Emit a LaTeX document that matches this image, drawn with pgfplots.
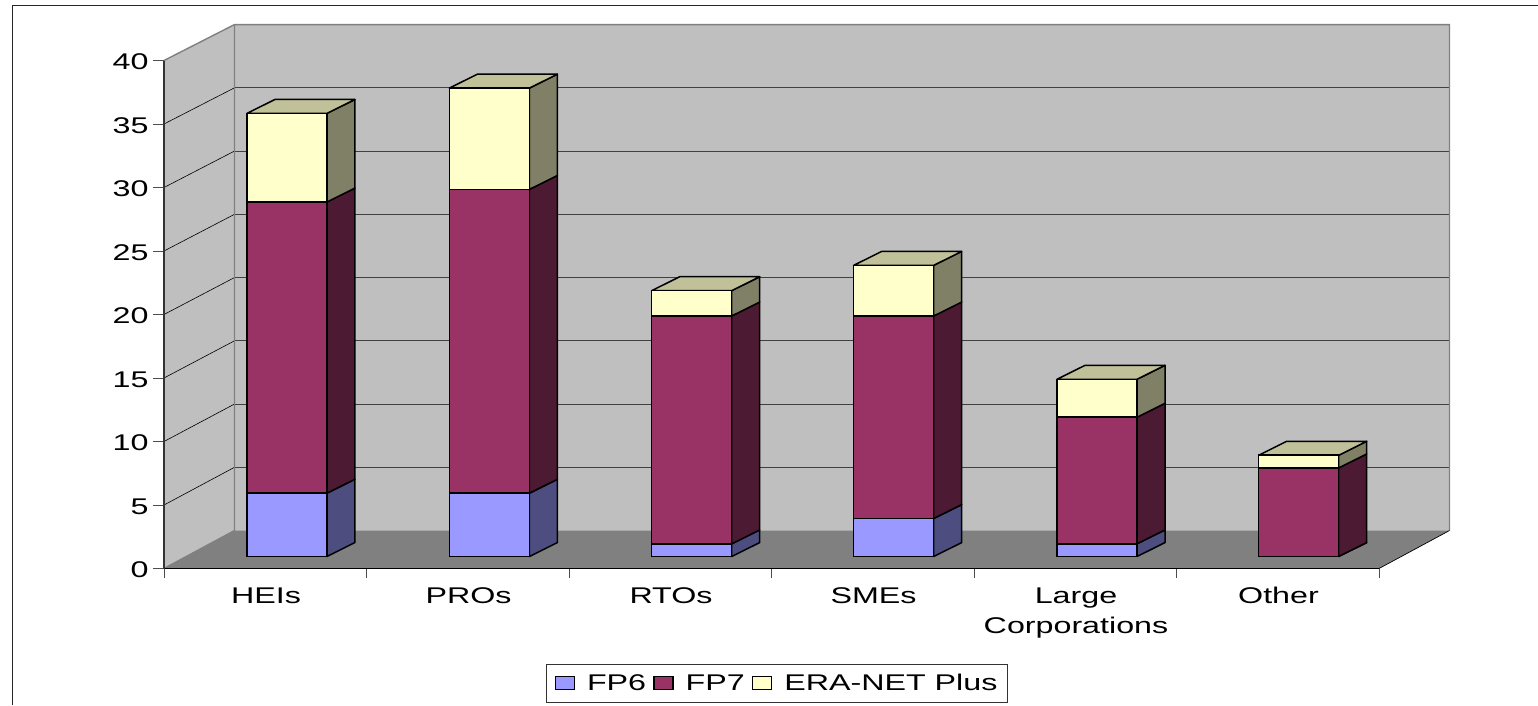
\documentclass[border=0pt]{standalone}
\usepackage{fontspec}
\setmainfont{Liberation Sans}[FakeStretch=1.42]
\usepackage{pgfplots}
\usepackage{pgfplotstable}
\pgfplotsset{compat=1.18}
\definecolor{cA}{HTML}{9999FF}\definecolor{cAs}{HTML}{4D4D80}
\definecolor{cB}{HTML}{993366}\definecolor{cBs}{HTML}{4D1A33}
\definecolor{cC}{HTML}{FFFFCC}\definecolor{cCs}{HTML}{808066}\definecolor{cCt}{HTML}{C0C099}
\pgfplotstableread{
x      FP6 FP7 ERA
286.9  5   23  7
489.4  5   24  8
691.7  1   18  2
893.7  3   16  4
1097   1   10  3
1298.7 0   7   1
}\bars
% side face of a segment: right edge, lower and upper value, colour
\newcommand\seg[4]{%
 \pgfmathsetmacro\xb{#1+28}\pgfmathsetmacro\ya{#2+1.1}\pgfmathsetmacro\yb{#3+1.1}%
 \edef\tmp{\noexpand\addplot[fill=#4,draw=black,line width=1.5pt,line join=round,forget plot] coordinates {(#1,#2) (\xb,\ya) (\xb,\yb) (#1,#3)} --cycle;}\tmp}
% top face: left edge, right edge, value
\newcommand\topf[3]{%
 \pgfmathsetmacro\xa{#1+28}\pgfmathsetmacro\xb{#2+28}\pgfmathsetmacro\yb{#3+1.1}%
 \edef\tmp{\noexpand\addplot[fill=cCt,draw=black,line width=1.5pt,line join=round,forget plot] coordinates {(#1,#3) (#2,#3) (\xb,\yb) (\xa,\yb)} --cycle;}\tmp}
\pgfplotsset{base/.style={width=1215pt,height=508pt,scale only axis,xmin=164,xmax=1379,clip=false}}
\begin{document}
\begin{tikzpicture}
\path[use as bounding box] (-164pt,-136.5pt) rectangle (1374pt,568.5pt);
\draw[line width=1pt,black!85] (-151pt,-136.5pt) -- (-151pt,563pt) -- (1374pt,563pt);
\begin{axis}[base,ymin=0,ymax=40,
  axis x line=bottom,axis y line=left,axis line style={-,line width=1.2pt,black!80},
  tick align=outside,major tick length=11pt,minor tick length=9pt,
  tick style={black!70,line width=0.9pt},
  xtick={266,468.5,671,873.5,1076,1278.5},
  xticklabels={HEIs,PROs,RTOs,SMEs,{Large\\Corporations},Other},
  minor xtick={164,366.5,569,771.5,974,1176.5,1379},
  x tick style={draw=none},minor x tick style={draw=black!70,line width=0.9pt},
  ytick={0,5,...,40},
  /pgf/number format/assume math mode=true,
  ticklabel style={font=\fontsize{22.7}{30}\selectfont,text=black},
  xticklabel style={align=center,yshift=-4.5pt},
  yticklabel style={xshift=-1pt,yshift=-1.5pt},
  axis on top=false]
\addplot[fill=black!25,draw=none,forget plot] coordinates {(234.5,2.99)(1449.5,2.99)(1449.5,42.83)(234.5,42.83)} --cycle;
\addplot[fill=black!25,draw=none,forget plot] coordinates {(164,0)(234.5,2.99)(234.5,42.83)(164,40)} --cycle;
\addplot[fill=black!50,draw=none,forget plot] coordinates {(164,0)(1379,0)(1449.5,2.99)(234.5,2.99)} --cycle;
% grid lines on the back wall and the side wall
\addplot[black!75,line width=0.9pt,forget plot] coordinates {(234.5,7.97)(1449.5,7.97)};
\addplot[black!75,line width=0.9pt,forget plot] coordinates {(234.5,12.95)(1449.5,12.95)};
\addplot[black!75,line width=0.9pt,forget plot] coordinates {(234.5,17.93)(1449.5,17.93)};
\addplot[black!75,line width=0.9pt,forget plot] coordinates {(234.5,22.91)(1449.5,22.91)};
\addplot[black!75,line width=0.9pt,forget plot] coordinates {(234.5,27.89)(1449.5,27.89)};
\addplot[black!75,line width=0.9pt,forget plot] coordinates {(234.5,32.87)(1449.5,32.87)};
\addplot[black!75,line width=0.9pt,forget plot] coordinates {(234.5,37.85)(1449.5,37.85)};
\addplot[black,line width=0.6pt,forget plot] coordinates {(164,5)(234.5,7.97)};
\addplot[black,line width=0.6pt,forget plot] coordinates {(164,10)(234.5,12.95)};
\addplot[black,line width=0.6pt,forget plot] coordinates {(164,15)(234.5,17.93)};
\addplot[black,line width=0.6pt,forget plot] coordinates {(164,20)(234.5,22.91)};
\addplot[black,line width=0.6pt,forget plot] coordinates {(164,25)(234.5,27.89)};
\addplot[black,line width=0.6pt,forget plot] coordinates {(164,30)(234.5,32.87)};
\addplot[black,line width=0.6pt,forget plot] coordinates {(164,35)(234.5,37.85)};
% wall edges
\addplot[black!50,line width=1.4pt,forget plot] coordinates {(164,40)(234.5,42.83)(1449.5,42.83)(1449.5,2.99)};
\addplot[black!50,line width=1.4pt,forget plot] coordinates {(164,0)(234.5,2.99)(234.5,42.83)};
\addplot[black,line width=0.7pt,forget plot] coordinates {(1379,0)(1449.5,2.99)};
\addplot[black,line width=1.4pt,forget plot] coordinates {(164,0)(1379,0)};
\addplot[black!80,line width=1.2pt,forget plot] coordinates {(164,0)(164,40)};
\end{axis}
\begin{axis}[base,ymin=-0.948,ymax=39.18,hide axis]
\seg{326.9}{0}{5}{cAs}\seg{326.9}{5}{28}{cBs}\seg{326.9}{28}{35}{cCs}\topf{246.9}{326.9}{35}
\seg{529.4}{0}{5}{cAs}\seg{529.4}{5}{29}{cBs}\seg{529.4}{29}{37}{cCs}\topf{449.4}{529.4}{37}
\seg{731.7}{0}{1}{cAs}\seg{731.7}{1}{19}{cBs}\seg{731.7}{19}{21}{cCs}\topf{651.7}{731.7}{21}
\seg{933.7}{0}{3}{cAs}\seg{933.7}{3}{19}{cBs}\seg{933.7}{19}{23}{cCs}\topf{853.7}{933.7}{23}
\seg{1137}{0}{1}{cAs}\seg{1137}{1}{11}{cBs}\seg{1137}{11}{14}{cCs}\topf{1057}{1137}{14}
\seg{1338.7}{0}{0}{cAs}\seg{1338.7}{0}{7}{cBs}\seg{1338.7}{7}{8}{cCs}\topf{1258.7}{1338.7}{8}
\end{axis}
\begin{axis}[base,ymin=-0.948,ymax=39.18,hide axis,
  ybar stacked,bar width=80pt,
  legend columns=3,
  legend style={at={(0.5045,-0.2254)},anchor=center,draw=black!80,line width=0.9pt,fill=white,
    font=\fontsize{22.7}{26}\selectfont,inner xsep=8pt,inner ysep=8pt,
    /tikz/every even column/.append style={column sep=5pt},
    /tikz/every odd column/.append style={column sep=10pt}},
  legend image code/.code={\draw[#1,line width=1.5pt] (0pt,-6.5pt) rectangle (19pt,6.5pt);}]
\addplot[fill=cA,draw=black,line width=1.5pt] table[x=x,y=FP6] {\bars};
\addplot[fill=cB,draw=black,line width=1.5pt] table[x=x,y=FP7] {\bars};
\addplot[fill=cC,draw=black,line width=1.5pt] table[x=x,y=ERA] {\bars};
\legend{FP6,FP7,ERA-NET Plus}
\end{axis}
\end{tikzpicture}
\end{document}
